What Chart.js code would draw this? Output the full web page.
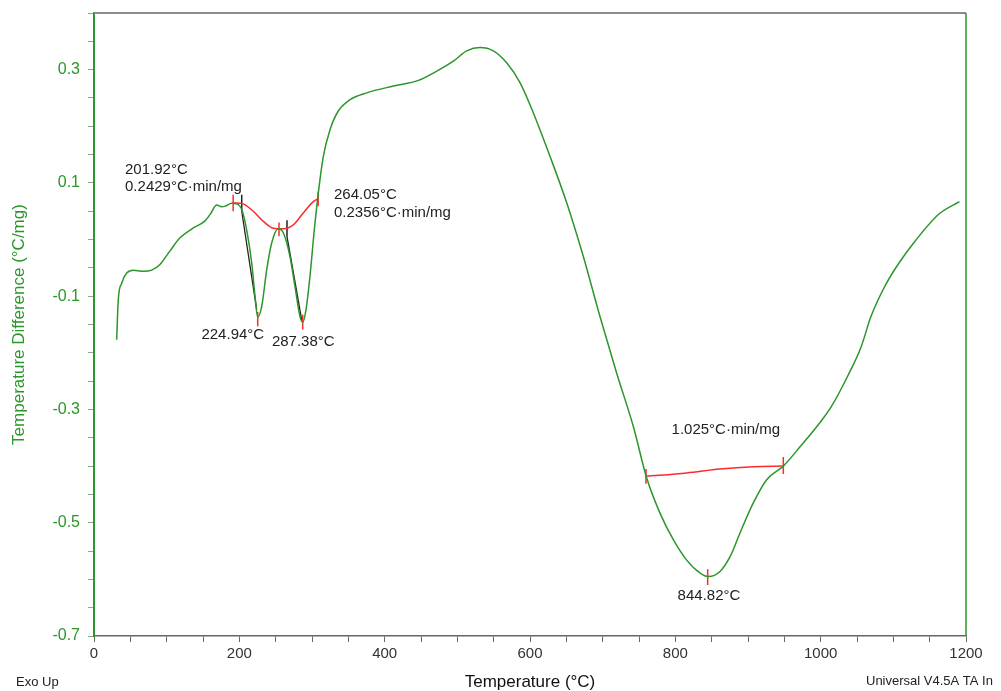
<!DOCTYPE html>
<html><head><meta charset="utf-8">
<script src="https://cdn.jsdelivr.net/npm/chart.js@4.4.0/dist/chart.umd.min.js"></script>
<style>html,body{margin:0;padding:0;background:#fff;overflow:hidden}#wrap{width:1001px;height:691px;position:relative}canvas{display:block}</style>
</head><body><div id="wrap"><canvas id="c" width="1001" height="691"></canvas></div>
<script>
// ---- DTA curve ----
const tempC = [31.2,33.4,38.1,45.0,54.1,67.8,79.4,90.8,104.6,118.3,134.9,152.8,159.6,168.9,175.7,180.3,189.5,196.4,203.3,210.1,217.0,221.6,225.2,230.8,237.7,244.5,253.6,260.5,269.7,276.6,283.5,287.2,291.7,297.2,302.8,308.3,315.6,324.8,336.2,352.3,375.3,411.9,446.3,466.9,494.5,512.9,531.2,549.5,567.9,586.2,604.5,627.5,650.5,673.4,696.3,719.3,742.2,760.6,778.9,797.2,815.6,834.1,845.4,861.5,875.3,889.0,907.3,925.7,948.6,971.6,999.1,1014.2,1037.6,1055.5,1069.2,1088.5,1106.4,1129.8,1162.8,1191.0];
const diffVal = [-0.177,-0.106,-0.077,-0.059,-0.054,-0.056,-0.054,-0.044,-0.020,0.003,0.019,0.033,0.044,0.061,0.058,0.059,0.064,0.063,0.053,0.017,-0.041,-0.100,-0.137,-0.118,-0.053,-0.006,0.019,0.012,-0.030,-0.083,-0.136,-0.146,-0.124,-0.065,0.012,0.078,0.147,0.194,0.227,0.247,0.259,0.271,0.281,0.294,0.315,0.333,0.339,0.333,0.312,0.277,0.224,0.147,0.065,-0.030,-0.136,-0.236,-0.330,-0.421,-0.483,-0.530,-0.566,-0.589,-0.595,-0.586,-0.560,-0.518,-0.465,-0.424,-0.400,-0.366,-0.323,-0.296,-0.240,-0.190,-0.136,-0.082,-0.044,-0.003,0.045,0.067];

// ---- integration baselines ----
const baseLeftT = [191.5,205.2,219.2,233.0,246.7,260.5,274.3,288.0,301.8,308.5];
const baseLeftY = [0.065,0.063,0.050,0.032,0.020,0.019,0.026,0.047,0.067,0.072];
const baseRightT = [759.6,815.6,861.5,907.3,948.6];
const baseRightY = [-0.418,-0.412,-0.405,-0.401,-0.400];

// ---- marker ticks (T, y from, y to) ----
const redMarkT  = [191.5,225.3,254.6,287.2,308.5,759.6,948.6,844.5];
const redMarkY1 = [0.079,-0.128,0.030,-0.133,0.085,-0.405,-0.384,-0.582];
const redMarkY2 = [0.050,-0.153,0.006,-0.159,0.059,-0.431,-0.414,-0.610];
const blackMarkT  = [203.3,265.6];
const blackMarkY1 = [0.079,0.034];
const blackMarkY2 = [0.050,0.005];
// tangent lines
const tangentT1 = [203.3,223.9], tangentY1 = [0.050,-0.124];
const tangentT2 = [265.6,285.8], tangentY2 = [0.005,-0.142];

// ---- annotation texts ----
const noteText = ["201.92°C","0.2429°C·min/mg","264.05°C","0.2356°C·min/mg","224.94°C","287.38°C","1.025°C·min/mg","844.82°C"];
const noteT    = [42.7,42.7,330.3,330.3,191.0,288.0,869.5,846.3];
const noteY    = [0.1235,0.0935,0.0793,0.0475,-0.168,-0.180,-0.336,-0.630];
const noteAlign= ["left","left","left","left","center","center","center","center"];

// ---- ticks ----
const xMajorTicks = [0,200,400,600,800,1000,1200];
const xMinorStep = 50;
const yMajorTicks = [0.3,0.1,-0.1,-0.3,-0.5,-0.7];
const yMinorStep = 0.05;
const xRange = [0,1200], yRange = [-0.7,0.4];

const FONT = "'Liberation Sans', Arial, sans-serif";
const GREEN = '#2b962b';

function pts(ts, ys){ return ts.map((t,i)=>({x:t,y:ys[i]})); }
function segs(ts, y1, y2){ const o=[]; ts.forEach((t,i)=>{o.push({x:t,y:y1[i]},{x:t,y:y2[i]},{x:t,y:null});}); return o; }

const annot = {
  id:'annot',
  afterDraw(chart){
    const {ctx, chartArea:a, scales:{x,y}} = chart;
    ctx.save();
    ctx.strokeStyle='#8c8c8c'; ctx.lineWidth=2;
    ctx.beginPath(); ctx.moveTo(a.left, a.top); ctx.lineTo(a.right, a.top); ctx.stroke();
    ctx.strokeStyle=GREEN; ctx.lineWidth=1.5;
    ctx.beginPath(); ctx.moveTo(a.right, a.top); ctx.lineTo(a.right, a.bottom); ctx.stroke();
    ctx.fillStyle='#222'; ctx.font='15px '+FONT; ctx.textBaseline='middle';
    noteText.forEach((s,i)=>{ ctx.textAlign=noteAlign[i]; ctx.fillText(s, x.getPixelForValue(noteT[i]), y.getPixelForValue(noteY[i])); });
    ctx.font='13px '+FONT; ctx.fillStyle='#222'; ctx.textAlign='left';
    ctx.fillText('Exo Up', 16, 682);
    ctx.fillText('Universal V4.5A TA In', 866, 681);
    ctx.restore();
  }
};

new Chart(document.getElementById('c'), {
  type:'scatter',
  data:{datasets:[
    {data:pts(tempC,diffVal), showLine:true, borderColor:GREEN, borderWidth:1.5, pointRadius:0, cubicInterpolationMode:'monotone'},
    {data:pts(baseLeftT,baseLeftY), showLine:true, borderColor:'#ff2a2a', borderWidth:1.5, pointRadius:0, cubicInterpolationMode:'monotone'},
    {data:pts(baseRightT,baseRightY), showLine:true, borderColor:'#ff2a2a', borderWidth:1.5, pointRadius:0, cubicInterpolationMode:'monotone'},
    {data:pts(tangentT1,tangentY1), showLine:true, borderColor:'#222', borderWidth:1.3, pointRadius:0},
    {data:pts(tangentT2,tangentY2), showLine:true, borderColor:'#222', borderWidth:1.3, pointRadius:0},
    {data:segs(blackMarkT,blackMarkY1,blackMarkY2), showLine:true, spanGaps:false, borderColor:'#222', borderWidth:1.5, pointRadius:0},
    {data:segs(redMarkT,redMarkY1,redMarkY2), showLine:true, spanGaps:false, borderColor:'#ff2a2a', borderWidth:1.5, pointRadius:0}
  ]},
  options:{
    responsive:false, animation:false, devicePixelRatio:1,
    layout:{padding:{top:13,right:35,left:0,bottom:0}},
    plugins:{legend:{display:false}, tooltip:{enabled:false}},
    scales:{
      x:{type:'linear', min:xRange[0], max:xRange[1],
        afterFit(s){ s.height=55; s.paddingLeft=0; s.paddingRight=0; },
        afterBuildTicks(s){ const t=[]; for(let v=xRange[0]; v<=xRange[1]+1e-9; v+=xMinorStep) t.push({value:v}); s.ticks=t; },
        ticks:{autoSkip:false, maxRotation:0, padding:3, color:'#333', font:{family:FONT,size:15},
          callback:(v)=> xMajorTicks.includes(Math.round(v)) && Math.abs(v-Math.round(v))<1e-6 ? String(Math.round(v)) : ''},
        grid:{drawOnChartArea:false, drawTicks:true, tickLength:6, tickColor:'#666'},
        border:{display:true, color:'#666', width:1.5},
        title:{display:true, text:'Temperature (°C)', color:'#111', font:{family:FONT,size:17,lineHeight:1}, padding:{top:0,bottom:0}}
      },
      y:{type:'linear', min:yRange[0], max:yRange[1],
        afterFit(s){ s.width=94; s.paddingTop=0; s.paddingBottom=0; },
        afterBuildTicks(s){ const t=[]; for(let k=0; k<=Math.round((yRange[1]-yRange[0])/yMinorStep); k++) t.push({value:+(yRange[0]+k*yMinorStep).toFixed(4)}); s.ticks=t; },
        ticks:{autoSkip:false, padding:8, color:GREEN, font:{family:FONT,size:16},
          callback:(v)=>{ const m=yMajorTicks.find(q=>Math.abs(q-v)<1e-6); return m===undefined?'':String(m); }},
        grid:{drawOnChartArea:false, drawTicks:true, tickLength:6, tickColor:'#8aa88a'},
        border:{display:true, color:GREEN, width:2},
        title:{display:true, text:'Temperature Difference (°C/mg)', color:GREEN, font:{family:FONT,size:17,lineHeight:1}, padding:{top:11,bottom:0}}
      }
    }
  },
  plugins:[annot]
});
</script>
</body></html>
